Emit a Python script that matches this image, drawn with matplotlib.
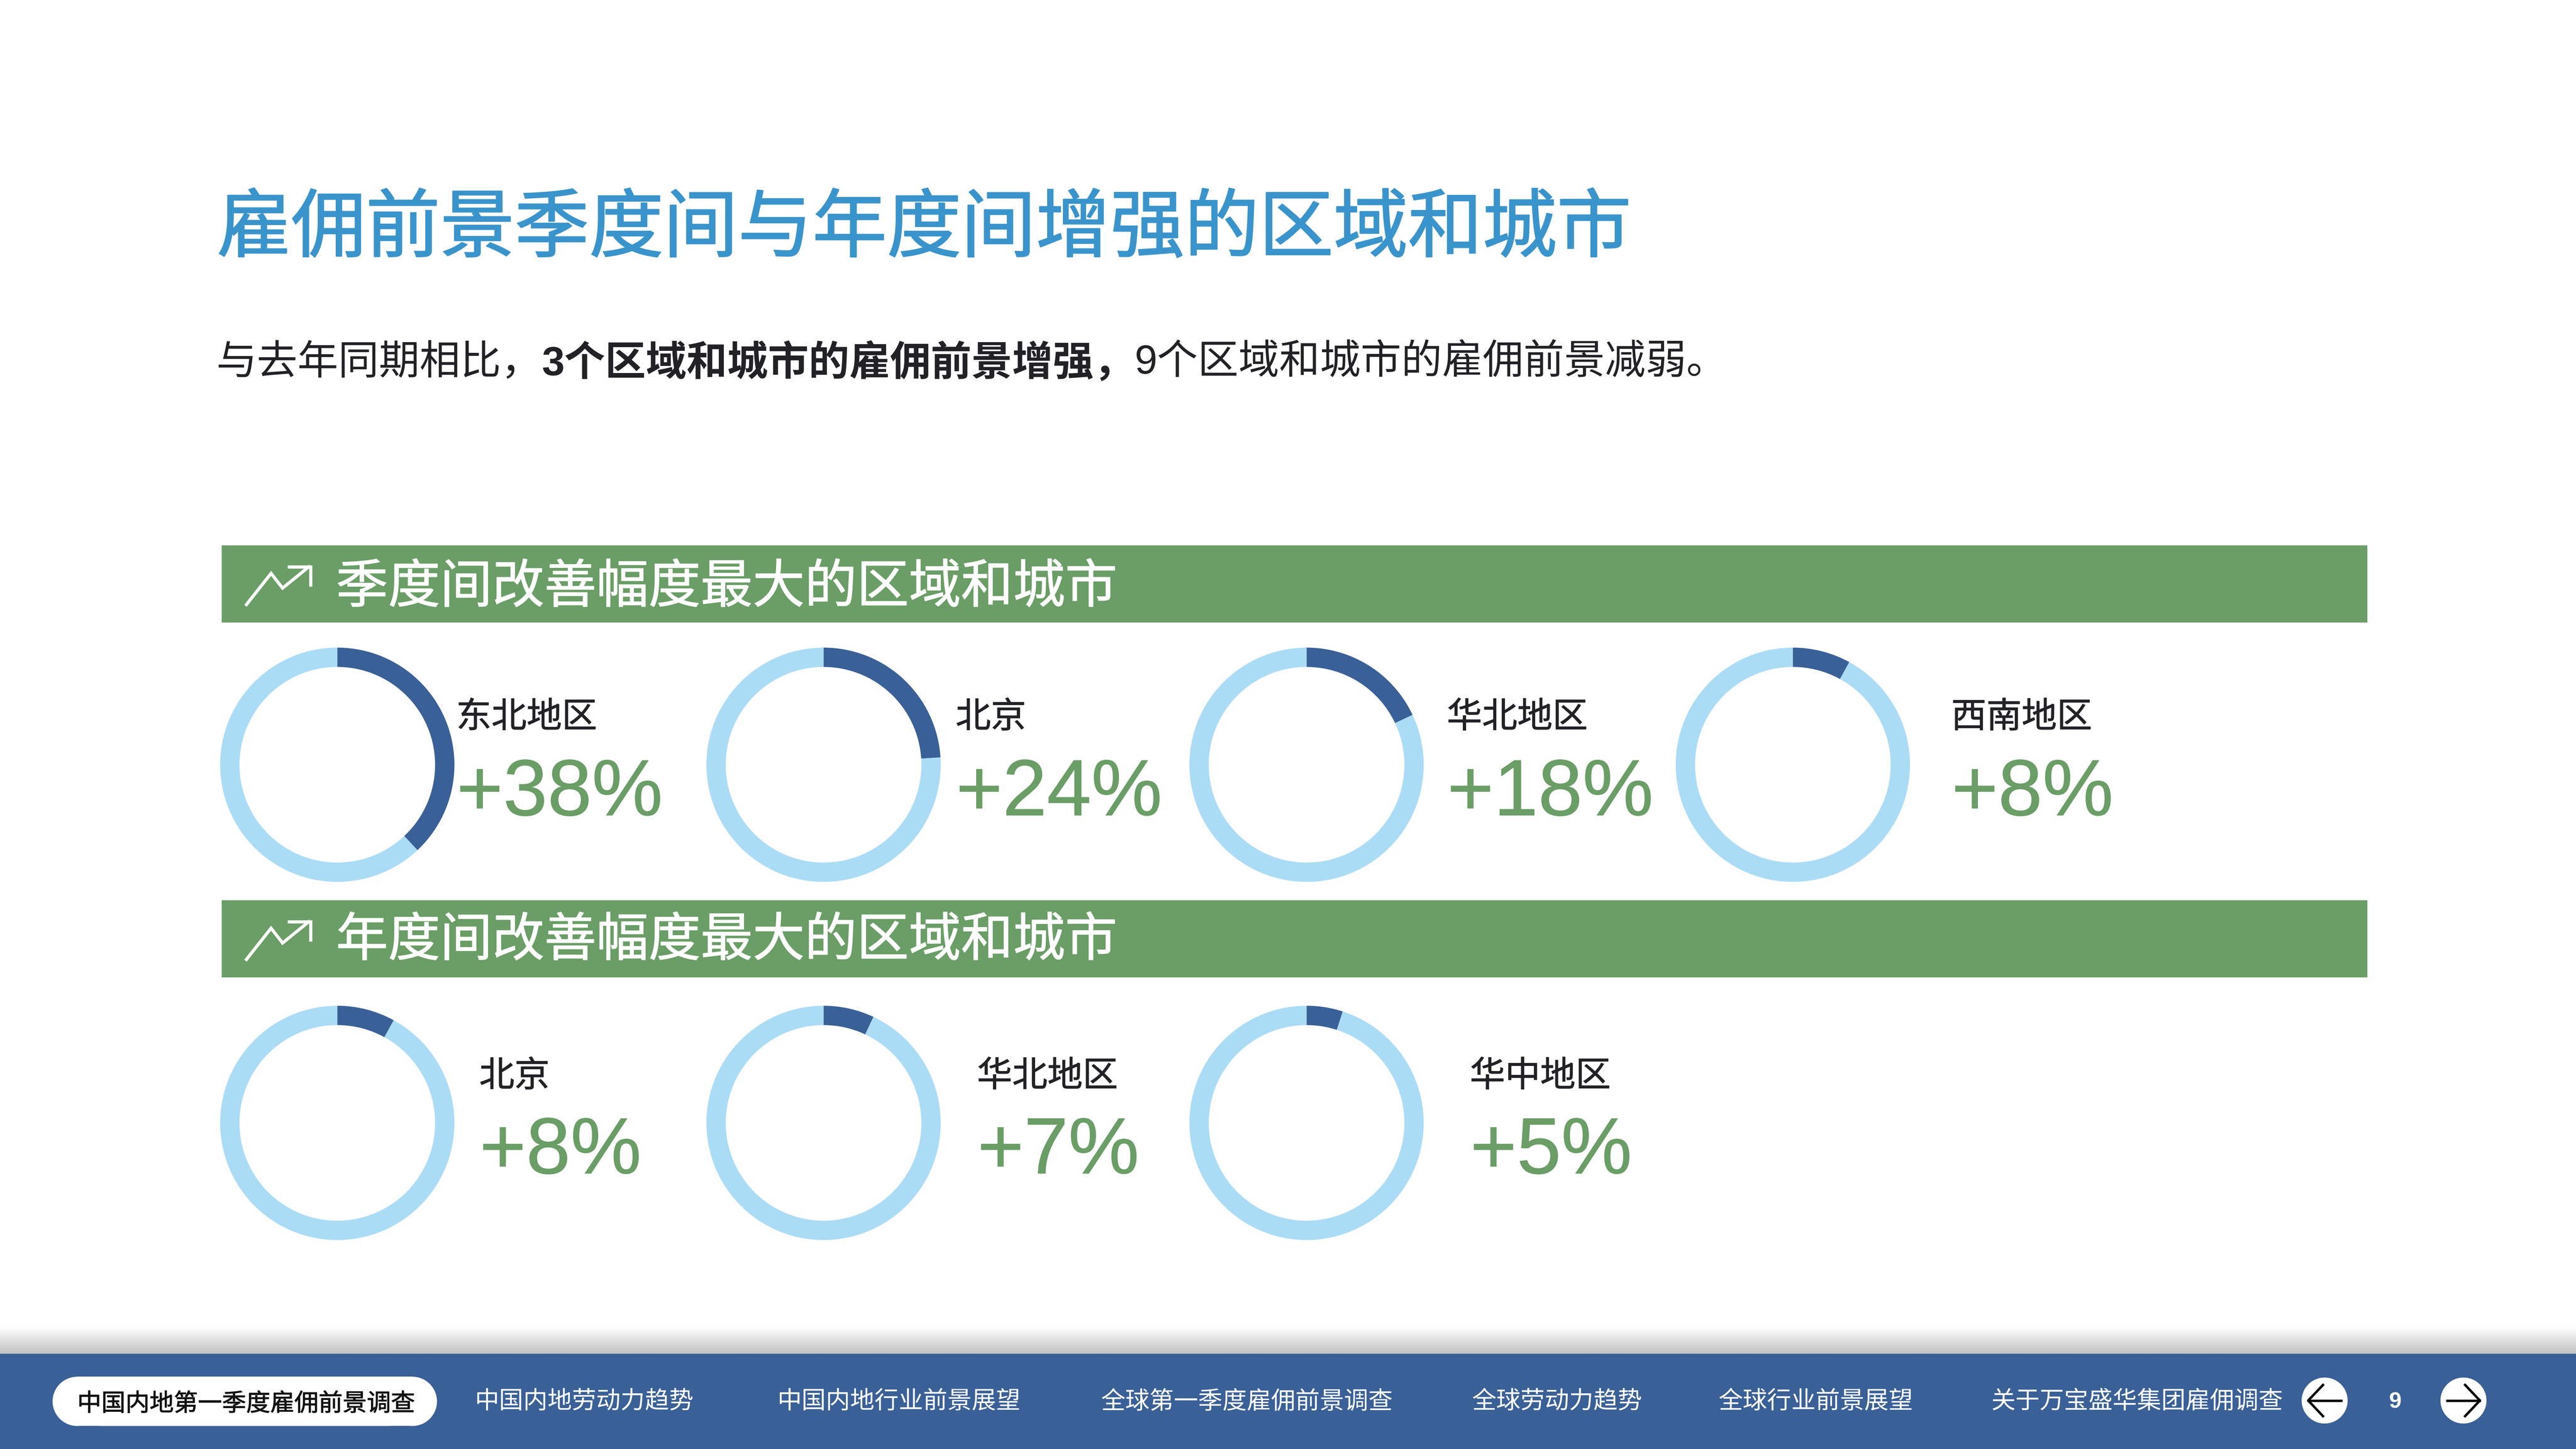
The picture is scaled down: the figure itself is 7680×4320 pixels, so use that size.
import numpy as np
import matplotlib
matplotlib.use("Agg")
import matplotlib.pyplot as plt
import matplotlib.patheffects as pe
from matplotlib.patches import Rectangle, FancyBboxPatch, Circle

W, H = 1568.0, 882.0
FAM = ['Liberation Sans', 'Noto Sans CJK SC']

title = "雇佣前景季度间与年度间增强的区域和城市"
sub_parts = [("与去年同期相比，", False), ("3个区域和城市的雇佣前景增强，", True), ("9个区域和城市的雇佣前景减弱。", False)]
band1 = "季度间改善幅度最大的区域和城市"
band2 = "年度间改善幅度最大的区域和城市"
q_regions = ["东北地区", "北京", "华北地区", "西南地区"]
q_values = [38, 24, 18, 8]
y_regions = ["北京", "华北地区", "华中地区"]
y_values = [8, 7, 5]
nav_active = "中国内地第一季度雇佣前景调查"
nav_items = ["中国内地劳动力趋势", "中国内地行业前景展望", "全球第一季度雇佣前景调查", "全球劳动力趋势", "全球行业前景展望", "关于万宝盛华集团雇佣调查"]
page = "9"

q_cx = [205.3, 501.3, 795.3, 1091.3]
q_tx = [278, 582, 881, 1188]
y_cx = [205.3, 501.3, 795.3]
y_tx = [292, 595, 895]
nav_x = [289, 473, 670, 896, 1046, 1212]

BLUE = '#3A6098'; LIGHT = '#ABDCF6'; GREEN = '#6A9E66'; TITLE = '#3A94CC'; DARK = '#222226'

fig = plt.figure(figsize=(19.2, 10.8), dpi=400, facecolor='white')
ax = fig.add_axes([0, 0, 1, 1])
ax.set_xlim(0, W); ax.set_ylim(H, 0); ax.axis('off')

def T(x, y, s, size, color=DARK, weight='normal', ha='left', stroke=0):
    t = ax.text(x, y, s, fontsize=size, color=color, fontweight=weight, ha=ha, va='center', family=FAM)
    if stroke:
        t.set_path_effects([pe.withStroke(linewidth=stroke, foreground=color)])
    return t

T(132, 141, title, 39.95, TITLE, 'normal', stroke=0.6)

r = fig.canvas.get_renderer()
x = 131.5
for s, b in sub_parts:
    t = T(x, 221.2, s, 21.85, DARK, 'bold' if b else 'normal')
    x = ax.transData.inverted().transform((t.get_window_extent(r).x1, 0))[0]

def trend(y0):
    ax.plot([150, 165, 172, 188], [y0 + 24, y0 + 5, y0 + 14, y0 + 1], color='white', lw=1.7, solid_joinstyle='miter')
    ax.plot([176, 189, 189], [y0 + 1, y0 + 1, y0 + 12], color='white', lw=1.7, solid_joinstyle='miter')

for y0, s, dy in ((332, band1, 26.5), (548, band2, 25.5)):
    ax.add_patch(Rectangle((135, y0), 1306, 47, fc=GREEN, ec='none'))
    T(204.5, y0 + dy, s, 27.95, 'white', stroke=0.35)
    trend(y0 + 12)

def donut(cx, cy, v, r=71.3):
    a = fig.add_axes([(cx - r) / W, 1 - (cy + r) / H, 2 * r / W, 2 * r / H])
    a.pie([v, 100 - v], colors=[BLUE, LIGHT], startangle=90, counterclock=False, radius=1,
          wedgeprops=dict(width=0.165, linewidth=0))
    a.set_xlim(-1, 1); a.set_ylim(-1, 1); a.set_aspect('equal'); a.axis('off')

for cxs, txs, regs, vals, cy, dl in ((q_cx, q_tx, q_regions, q_values, 465.5, 28.3), (y_cx, y_tx, y_regions, y_values, 683.5, 27.8)):
    for cx, tx, reg, v in zip(cxs, txs, regs, vals):
        donut(cx, cy, v)
        T(tx - 0.3, cy - dl, reg, 18.9, DARK, stroke=0.25)
        T(tx - 0.1, cy + 18.2, f"+{v}%", 42.8, GREEN, stroke=0.25)

# footer shadow
grad = np.linspace(1, 0.84, 64).reshape(-1, 1) ** 1.6
ax.imshow(grad, extent=(0, W, 824, 808), cmap='gray', vmin=0, vmax=1, aspect='auto', zorder=1)
ax.set_xlim(0, W); ax.set_ylim(H, 0)
ax.add_patch(Rectangle((0, 824), W, 58, fc=BLUE, ec='none', zorder=2))
ax.add_patch(FancyBboxPatch((47, 838), 204, 30, boxstyle="round,pad=0,rounding_size=15",
                            fc='white', ec='none', zorder=3))
ax.add_patch(Rectangle((47, 838), 204, 30, fc='white', ec='none', zorder=3))
ax.add_patch(Circle((47, 853), 15, fc='white', ec='none', zorder=3))
ax.add_patch(Circle((251, 853), 15, fc='white', ec='none', zorder=3))
T(47, 855, nav_active, 12.95, '#111111', 'normal', stroke=0.25).set_zorder(4)
for nx, s in zip(nav_x, nav_items):
    T(nx, 853.5, s, 13.05, 'white').set_zorder(4)
for cx, d in ((1415, -1), (1499.5, 1)):
    ax.add_patch(Circle((cx, 852.5), 14, fc='white', ec='none', zorder=3))
    ax.plot([cx - 10 * d, cx + 10 * d], [852.5, 852.5], color='black', lw=1.3, zorder=4)
    ax.plot([cx + 1 * d, cx + 10 * d, cx + 1 * d], [843, 852.5, 862], color='black', lw=1.3, zorder=4)
T(1458, 853.5, page, 12, 'white', 'bold', 'center').set_zorder(4)

fig.savefig('out.png', dpi=400, facecolor='white')
